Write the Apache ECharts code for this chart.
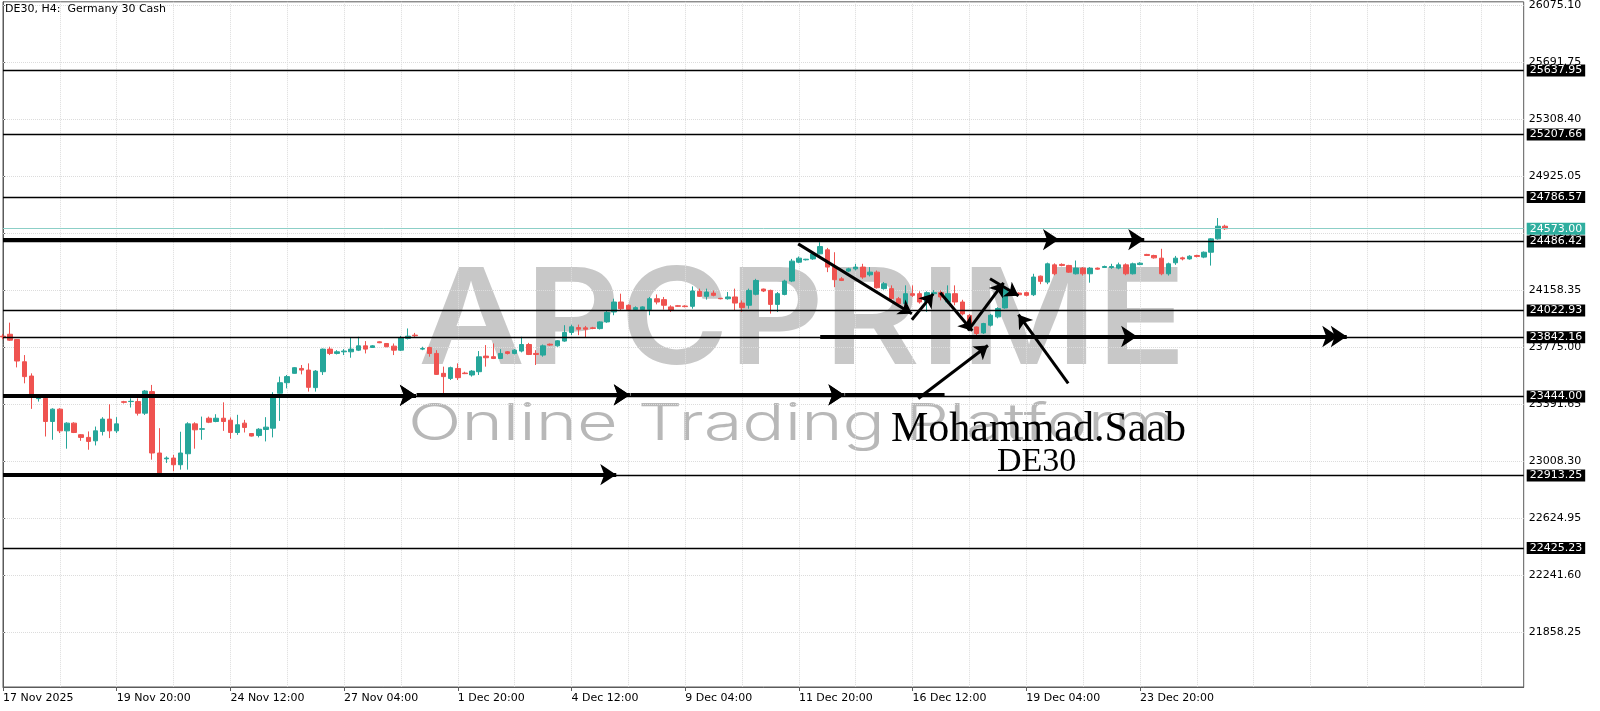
<!DOCTYPE html>
<html><head><meta charset="utf-8">
<script src="https://cdn.jsdelivr.net/npm/echarts@6/dist/echarts.min.js"></script>
<style>html,body{margin:0;padding:0;background:#fff}#c{width:1600px;height:711px}</style>
</head><body><div id="c"></div>
<script>
// ---------- DATA ----------
const opens = [
23850,23863,23828,23678,23582,23430,23432,23276,23359,23213,
23265,23187,23169,23146,23209,23292,23213,23409,23410,23410,
23332,23477,23064,23025,23030,22985,23059,23260,23224,23298,
23276,23298,23285,23202,23265,23195,23182,23222,23231,23466,
23537,23600,23633,23622,23504,23611,23763,23734,23745,23745,
23756,23785,23774,23812,23801,23783,23756,23835,23857,23763,
23774,23734,23600,23566,23633,23602,23589,23611,23716,23712,
23700,23745,23734,23750,23794,23734,23723,23796,23785,23817,
23875,23908,23906,23906,23901,23946,24013,24080,24058,24029,
24029,24029,24102,24096,24047,24055,24053,24051,24152,24118,
24140,24105,24102,24114,24073,24058,24132,24167,24158,24064,
24131,24221,24348,24364,24370,24404,24431,24315,24236,24288,
24303,24315,24263,24281,24170,24170,24102,24069,24136,24136,
24080,24136,24143,24080,24136,24080,23990,23912,23872,23924,
23980,24040,24158,24140,24143,24129,24254,24214,24330,24333,
24326,24270,24308,24270,24308,24312,24312,24308,24330,24270,
24332,24400,24393,24375,24270,24344,24377,24370,24393,24382,
24415,24505,24590];
const closes = [
23845,23823,23683,23578,23459,23434,23276,23359,23213,23265,
23202,23169,23142,23213,23292,23213,23260,23405,23412,23332,
23481,23064,22930,23030,22985,23064,23260,23220,23227,23271,
23298,23276,23202,23254,23236,23178,23224,23238,23455,23537,
23578,23638,23622,23506,23615,23763,23734,23745,23750,23763,
23785,23763,23785,23806,23779,23756,23839,23850,23853,23767,
23734,23593,23578,23638,23571,23598,23615,23711,23705,23700,
23734,23734,23756,23794,23727,23727,23785,23790,23819,23875,
23913,23897,23897,23902,23946,24010,24080,24035,24029,24042,
24047,24102,24080,24058,24024,24051,24049,24154,24118,24147,
24125,24102,24114,24073,24042,24158,24225,24154,24064,24136,
24221,24355,24375,24368,24404,24453,24315,24230,24225,24303,
24315,24248,24281,24176,24203,24102,24069,24136,24125,24080,
24143,24143,24114,24136,24080,24000,23910,23868,23935,23991,
24036,24170,24129,24129,24125,24248,24219,24337,24270,24326,
24281,24308,24270,24308,24301,24319,24319,24330,24270,24337,
24341,24393,24377,24270,24337,24375,24370,24388,24386,24415,
24505,24590,24573];
const lows = [
23830,23818,23640,23533,23361,23410,23175,23153,23198,23093,
23198,23146,23086,23115,23182,23164,23198,23397,23370,23316,
23320,23019,22920,22997,22941,22952,22952,23093,23153,23265,
23271,23213,23160,23186,23202,23175,23169,23142,23169,23280,
23499,23598,23593,23477,23477,23589,23723,23727,23723,23705,
23750,23734,23772,23803,23776,23723,23750,23828,23839,23756,
23712,23589,23466,23555,23555,23595,23578,23589,23645,23696,
23696,23727,23727,23741,23723,23656,23712,23785,23779,23812,
23857,23857,23839,23897,23895,23940,23991,24024,24024,24020,
24020,23991,24064,24029,24013,24047,24044,24035,24114,24096,
24118,24098,24096,24024,24013,24035,24125,24147,24002,24013,
24125,24214,24341,24359,24364,24400,24281,24180,24221,24281,
24292,24236,24252,24170,24163,24091,24058,24062,24114,24069,
24013,24125,24091,24069,24058,23990,23900,23855,23865,23915,
23970,24035,24120,24125,24118,24120,24200,24200,24260,24320,
24276,24265,24258,24210,24297,24310,24303,24300,24260,24265,
24328,24390,24372,24260,24258,24330,24360,24365,24380,24375,
24325,24500,24565];
const highs = [
23865,23941,23830,23723,23600,23455,23455,23365,23365,23271,
23271,23191,23209,23242,23305,23392,23305,23415,23432,23432,
23488,23522,23231,23041,23051,23207,23271,23271,23309,23309,
23325,23405,23303,23321,23287,23198,23231,23305,23473,23578,
23589,23642,23656,23667,23622,23767,23779,23756,23763,23839,
23846,23817,23790,23815,23803,23801,23852,23902,23872,23779,
23779,23756,23645,23645,23667,23611,23622,23750,23790,23801,
23763,23750,23763,23846,23805,23756,23794,23801,23823,23924,
23928,23928,23919,23913,23950,24020,24102,24136,24064,24051,
24051,24114,24131,24114,24058,24060,24058,24185,24170,24170,
24158,24107,24147,24170,24091,24170,24236,24170,24163,24147,
24230,24370,24386,24370,24408,24482,24444,24415,24248,24310,
24337,24337,24315,24292,24214,24192,24114,24192,24192,24152,
24152,24160,24158,24192,24192,24095,24000,23915,23940,24000,
24045,24185,24165,24145,24150,24270,24258,24345,24340,24340,
24330,24359,24315,24315,24312,24325,24337,24345,24340,24345,
24348,24404,24398,24438,24345,24390,24385,24395,24398,24420,
24510,24645,24600];

const xTickLabels = ['17 Nov 2025','19 Nov 20:00','24 Nov 12:00','27 Nov 04:00','1 Dec 20:00',
  '4 Dec 12:00','9 Dec 04:00','11 Dec 20:00','16 Dec 12:00','19 Dec 04:00','23 Dec 20:00'];
const barsPerLabel = 16;
const yTickValues = [21858.25,22241.60,22624.95,23008.30,23391.65,23775.00,24158.35,24541.70,24925.05,25308.40,25691.75,26075.10];
const levels = [25637.95,25207.66,24786.57,24486.42,24022.93,23842.16,23444.00,22913.25,22425.23];
const lastPrice = 24573.00;

// annotations: [bar index, price]
const thickArrows = [
  [[0,24500],[148.6,24500]], [[130,24500],[160.6,24500]],
  [[115,23848],[159.6,23848]], [[131,23848],[187.9,23848]], [[167,23848],[189.1,23848]],
  [[0,23452],[58.1,23452]], [[31.6,23452],[58.1,23452]],
  [[58.2,23455],[88.2,23455]], [[73.9,23455],[88.2,23455]],
  [[88.3,23455],[118.4,23455]], [[103.8,23455],[118.4,23455]],
  [[0,22918],[86.3,22918]]
];
const thickPlain = [ [[118.5,23455],[132.5,23455]] ];
const diagArrows = [
  [[111.9,24471],[127.9,24001]], [[127.9,23961],[130.9,24135]],
  [[131.9,24142],[136.4,23887]], [[135.8,23887],[140.8,24209]],
  [[138.9,24236],[142.9,24122]], [[149.9,23532],[142.9,23995]],
  [[128.8,23431],[138.6,23787]]
];

// ---------- BUILD ----------
const SLOTS = 215;
function pad(n){return (n<10?'0':'')+n;}
const categories = [];
(function(){
  let t = Date.UTC(2025,10,17,4);
  while (categories.length < SLOTS) {
    const d = new Date(t);
    const wd = d.getUTCDay();
    if (wd !== 0 && wd !== 6) categories.push(d.getUTCFullYear()+'.'+pad(d.getUTCMonth()+1)+'.'+pad(d.getUTCDate())+' '+pad(d.getUTCHours())+':00');
    t += 4*3600e3;
  }
})();
const candles = opens.map((o,i)=>[o, closes[i], lows[i], highs[i]]);
const lastLabelIdx = barsPerLabel*(xTickLabels.length-1);
const showTick = (i)=> i % barsPerLabel === 0 && i <= lastLabelIdx;

const UP = '#26a69a', DOWN = '#ef5350', FRAME = '#5a5a5a';
const FONT = 'DejaVu Sans';

const chart = echarts.init(document.getElementById('c'), null, {renderer:'canvas'});
chart.setOption({
  animation: false,
  backgroundColor: '#fff',
  title: {text:'DE30, H4:  Germany 30 Cash', left:5, top:4, padding:0,
    textStyle:{fontSize:11, fontWeight:'normal', color:'#000', fontFamily:FONT}},
  grid: {left:2.5, right:76.3, top:0.5, bottom:24, show:true, borderColor:FRAME, borderWidth:1, backgroundColor:'transparent'},
  xAxis: [{
    type:'category', data:categories, boundaryGap:false,
    axisLine:{show:true, lineStyle:{color:FRAME}},
    axisTick:{show:true, interval:(i)=>showTick(i), length:4, lineStyle:{color:FRAME}},
    axisLabel:{interval:(i)=>showTick(i), formatter:(v,i)=>xTickLabels[i/barsPerLabel] || '',
      align:'left', color:'#000', fontSize:11, fontFamily:FONT, margin:6},
    splitLine:{show:true, interval:(i)=> i>0 && i%8===0, lineStyle:{color:'#dcdcdc', type:'dotted', width:1}}
  },{
    type:'value', min:0, max:SLOTS-1, show:false
  }],
  yAxis: [{
    type:'value', position:'right', min:21489.5, max:26099.9, scale:true,
    axisLine:{show:true, lineStyle:{color:FRAME}},
    axisTick:{show:true, length:3, customValues:yTickValues, lineStyle:{color:FRAME}},
    axisLabel:{customValues:yTickValues, formatter:(v)=>v.toFixed(2), color:'#000', fontSize:11, fontFamily:FONT, margin:5},
    splitLine:{show:false}
  }],
  graphic: [
    {type:'text', x:418, y:324, scaleX:1.1, z:-10, silent:true,
      style:{text:'APCPRIME', font:'600 134px Inter', fill:'rgba(150,150,150,0.52)', textVerticalAlign:'middle', textAlign:'left'}},
    {type:'text', x:408, y:425, scaleX:1.38, z:-10, silent:true,
      style:{text:'Online Trading Platform', font:'300 51px Inter', fill:'rgba(150,150,150,0.68)', textVerticalAlign:'middle', textAlign:'left'}},
    {type:'text', x:891, y:430, z:100, silent:true,
      style:{text:'Mohammad.Saab', font:'42px "Liberation Serif"', fill:'#000', textVerticalAlign:'middle', textAlign:'left'}},
    {type:'text', x:997, y:462, z:100, silent:true,
      style:{text:'DE30', font:'34px "Liberation Serif"', fill:'#000', textVerticalAlign:'middle', textAlign:'left'}}
  ],
  series: [
    {type:'lines', coordinateSystem:'cartesian2d', xAxisIndex:1, yAxisIndex:0, silent:true, z:1,
      lineStyle:{color:'#dcdcdc', type:'dotted', width:1, opacity:1},
      data: yTickValues.map(v=>({coords:[[0,v],[SLOTS-1,v]]}))},
    {type:'candlestick', name:'DE30', xAxisIndex:0, yAxisIndex:0, data:candles, barWidth:5, z:3,
      itemStyle:{color:UP, color0:DOWN, borderColor:UP, borderColor0:DOWN, borderWidth:1},
      markLine:{silent:true, symbol:['none','none'], animation:false, precision:2,
        lineStyle:{color:'#000', width:1.3, type:'solid'},
        label:{show:true, position:'end', distance:3, formatter:(p)=>Number(p.value).toFixed(2),
          backgroundColor:'#000', color:'#fff', padding:[1,3,0,3], fontSize:11, fontFamily:FONT},
        emphasis:{disabled:true},
        data: levels.map(v=>({yAxis:v})).concat([{yAxis:lastPrice,
          lineStyle:{color:'#8ccfc7', width:1}, label:{backgroundColor:'#2fae9f', color:'#fff'}}])
      }},
    {type:'lines', coordinateSystem:'cartesian2d', xAxisIndex:1, yAxisIndex:0, silent:true, z:6,
      symbol:['none','arrow'], symbolSize:16,
      lineStyle:{color:'#000', width:4, opacity:1, curveness:0},
      data: thickArrows.map(c=>({coords:c}))},
    {type:'lines', coordinateSystem:'cartesian2d', xAxisIndex:1, yAxisIndex:0, silent:true, z:6,
      symbol:['none','none'],
      lineStyle:{color:'#000', width:4, opacity:1, curveness:0},
      data: thickPlain.map(c=>({coords:c}))},
    {type:'lines', coordinateSystem:'cartesian2d', xAxisIndex:1, yAxisIndex:0, silent:true, z:6,
      symbol:['none','arrow'], symbolSize:13,
      lineStyle:{color:'#000', width:3, opacity:1, curveness:0},
      data: diagArrows.map(c=>({coords:c}))}
  ]
});
</script>
</body></html>
